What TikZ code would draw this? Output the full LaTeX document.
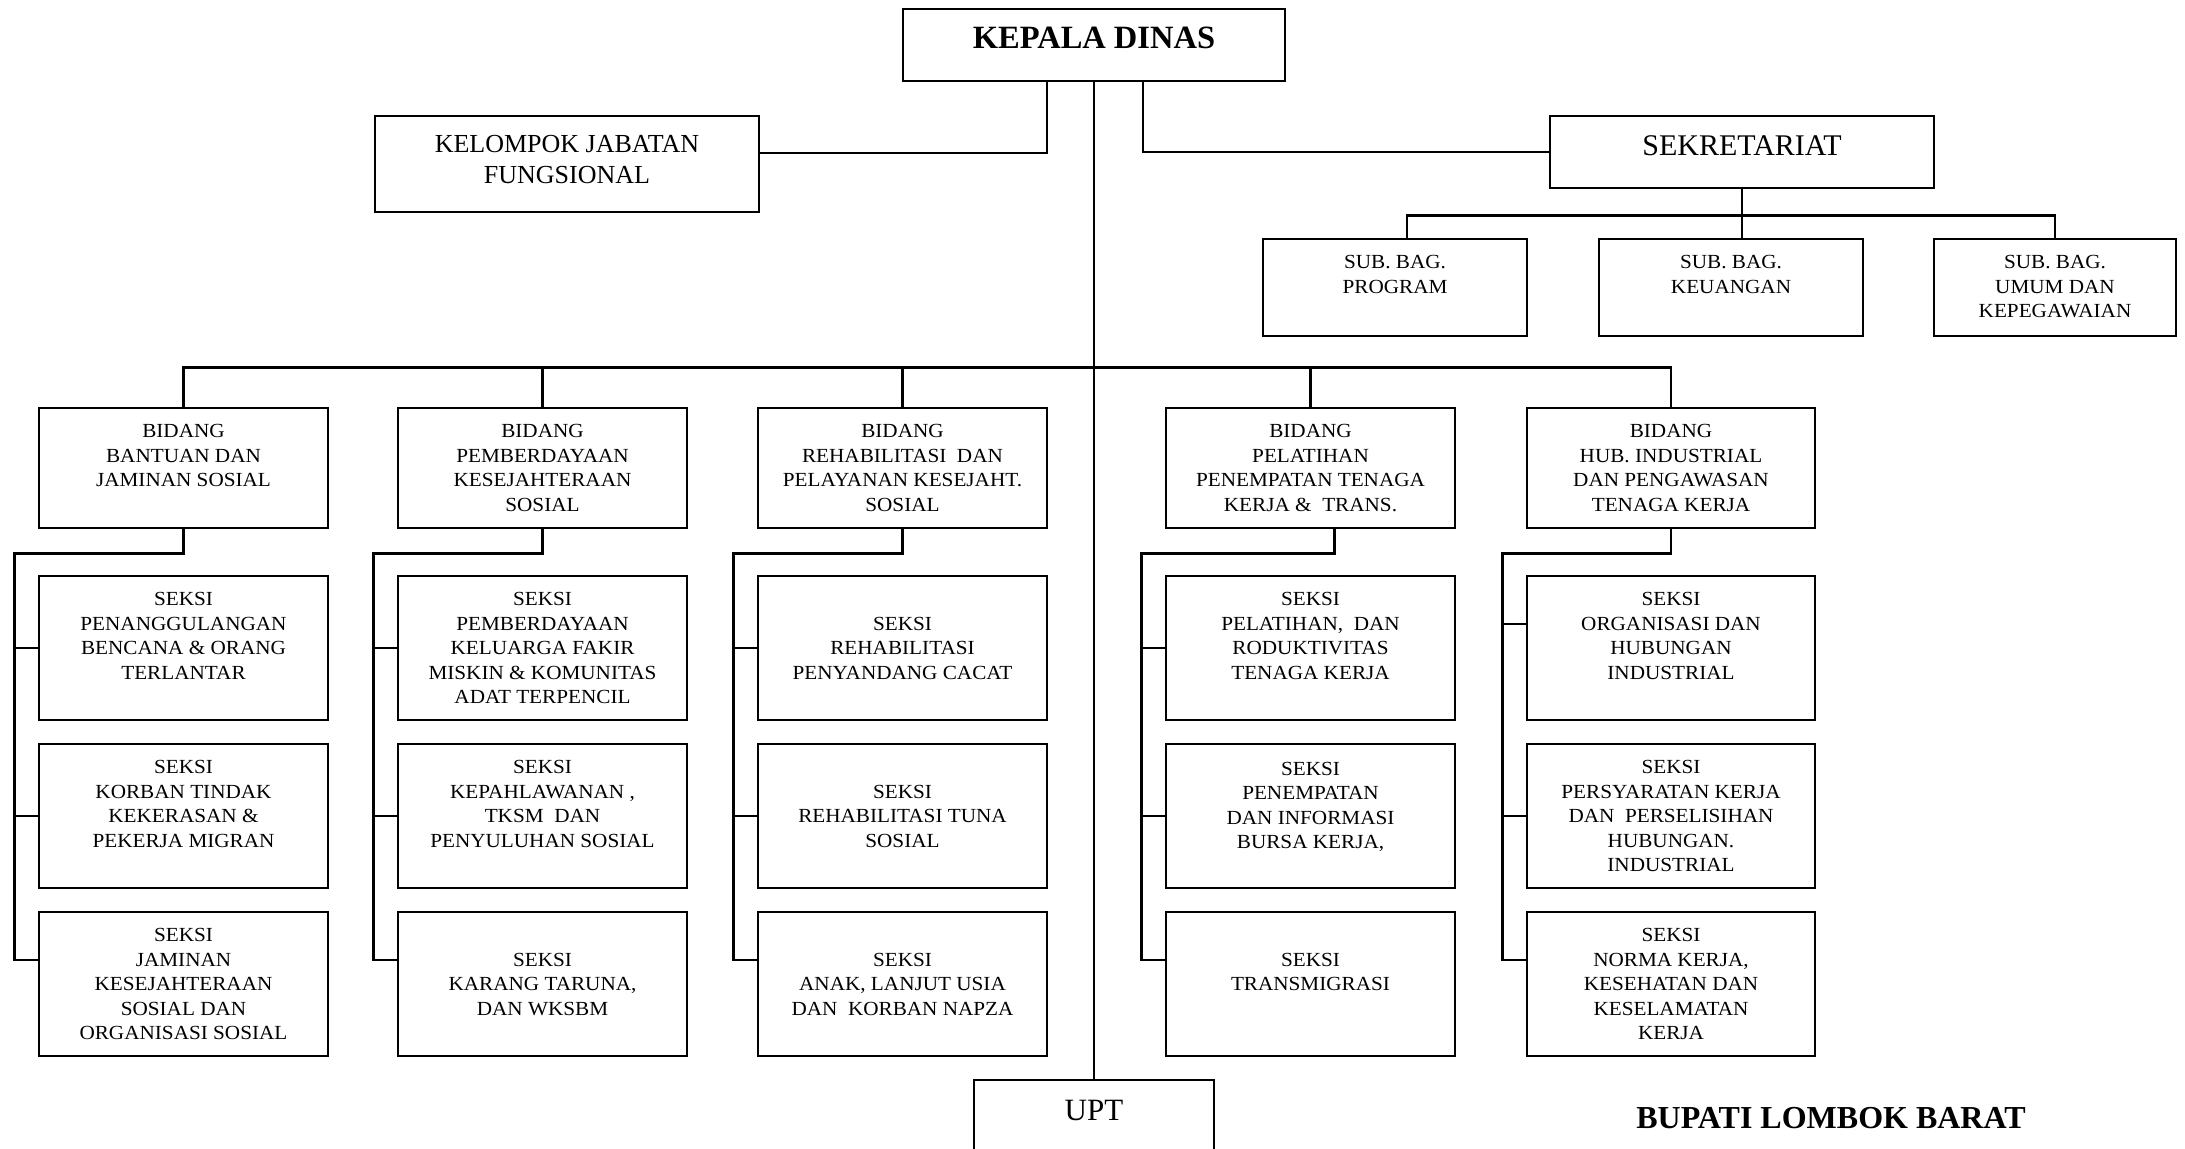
\documentclass[tikz,border=0pt]{standalone}
\usepackage{fontspec}
\setmainfont{Liberation Serif}
\newfontfamily\boxfnt{Liberation Serif}[FakeStretch=1.06]
\usetikzlibrary{fit}

\tikzset{
  box/.style={draw, line width=1.45pt, inner sep=0pt, fit={#1}},
  lbl/.style={anchor=north, align=center, inner sep=0pt, font=\boxfnt\fontsize{10}{12.25}\selectfont},
  link/.style={line width=1.15pt},
}

\begin{document}
\begin{tikzpicture}[x=0.5pt,y=0.5pt,yscale=-1,xscale=1]
    \useasboundingbox (0,0) rectangle (2185,1148);

    %Shape: Rectangle [kepala dinas]
    \node [box={(903,9) (1285,81)}] (kepala) {};
    %Shape: Rectangle [jabatan fungsional, sekretariat]
    \node [box={(375,116) (759,212)}] (kjf) {};
    \node [box={(1550,116) (1934,188)}] (sekr) {};
    %Shape: Rectangle [sub bagian]
    \node [box={(1263,239) (1527,336)}] (sb1) {};
    \node [box={(1599,239) (1863,336)}] (sb2) {};
    \node [box={(1934,239) (2176,336)}] (sb3) {};
    %Shape: Rectangle [bidang]
    \node [box={(39,408) (328,528)}] (bid1) {};
    \node [box={(398,408) (687,528)}] (bid2) {};
    \node [box={(758,408) (1047,528)}] (bid3) {};
    \node [box={(1166,408) (1455,528)}] (bid4) {};
    \node [box={(1527,408) (1815,528)}] (bid5) {};
    %Shape: Rectangle [seksi, row 1]
    \node [box={(39,576) (328,720)}] (s11) {};
    \node [box={(398,576) (687,720)}] (s21) {};
    \node [box={(758,576) (1047,720)}] (s31) {};
    \node [box={(1166,576) (1455,720)}] (s41) {};
    \node [box={(1527,576) (1815,720)}] (s51) {};
    %Shape: Rectangle [seksi, row 2]
    \node [box={(39,744) (328,888)}] (s12) {};
    \node [box={(398,744) (687,888)}] (s22) {};
    \node [box={(758,744) (1047,888)}] (s32) {};
    \node [box={(1166,744) (1455,888)}] (s42) {};
    \node [box={(1527,744) (1815,888)}] (s52) {};
    %Shape: Rectangle [seksi, row 3]
    \node [box={(39,912) (328,1056)}] (s13) {};
    \node [box={(398,912) (687,1056)}] (s23) {};
    \node [box={(758,912) (1047,1056)}] (s33) {};
    \node [box={(1166,912) (1455,1056)}] (s43) {};
    \node [box={(1527,912) (1815,1056)}] (s53) {};
    %Shape: Rectangle [upt]
    \node [box={(974,1080) (1214,1164)}] (upt) {};

    %Straight Lines [kepala]
    \coordinate (kk) at (1047,153);
    \coordinate (ks) at (1143,153);
    \draw [link] (kepala.south) -- (upt.north);
    \draw [link] (kepala.south -| kk) |- (kjf.east |- kk);
    \draw [link] (kepala.south -| ks) |- (sekr.west);
    %Straight Lines [sekretariat]
    \draw [link] (sekr.south) -- (sekr.south |- sb2.north);
    \draw [link] ([xshift=6pt]sb1.north) -- ++(0,-22) -| (sb3.north);
    %Straight Lines [bidang]
    \draw [link] (bid1.north) -- ++(0,-39) -| (bid5.north);
    \draw [link] (bid2.north) -- ++(0,-39);
    \draw [link] (bid3.north) -- ++(0,-39);
    \draw [link] (bid4.north) -- ++(0,-39);
    %Straight Lines [seksi]
    \draw [link] (bid1.south) -- ++(0,24) -| ([xshift=-11.5pt,yshift=-12pt]s13.west) -- ([yshift=-12pt]s13.west);
    \draw [link] (bid2.south) -- ++(0,24) -| ([xshift=-11.5pt,yshift=-12pt]s23.west) -- ([yshift=-12pt]s23.west);
    \draw [link] (bid3.south) -- ++(0,24) -| ([xshift=-11.5pt,yshift=-12pt]s33.west) -- ([yshift=-12pt]s33.west);
    \draw [link] ([xshift=12pt]bid4.south) -- ++(0,24) -| ([xshift=-11.5pt,yshift=-12pt]s43.west) -- ([yshift=-12pt]s43.west);
    \draw [link] (bid5.south) -- ++(0,24) -| ([xshift=-11.5pt,yshift=-12pt]s53.west) -- ([yshift=-12pt]s53.west);
    \draw [link] (s11.west) -- ++(-23,0);
    \draw [link] (s12.west) -- ++(-23,0);
    \draw [link] (s21.west) -- ++(-23,0);
    \draw [link] (s22.west) -- ++(-23,0);
    \draw [link] (s31.west) -- ++(-23,0);
    \draw [link] (s32.west) -- ++(-23,0);
    \draw [link] (s41.west) -- ++(-23,0);
    \draw [link] (s42.west) -- ++(-23,0);
    \draw [link] ([yshift=-12pt]s51.west) -- ++(-23,0);
    \draw [link] (s52.west) -- ++(-23,0);

    % Text Node
    \node [anchor=north, inner sep=0pt, font=\bfseries\fontsize{16.25}{19}\selectfont] (kepalat) at ([yshift=9.5pt]kepala.north) {KEPALA DINAS};
    % Text Node
    \node [anchor=north, align=center, inner sep=0pt, font=\fontsize{13}{15.5}\selectfont] (kjft) at ([yshift=10.25pt]kjf.north) {KELOMPOK JABATAN\\FUNGSIONAL};
    % Text Node
    \node [anchor=north, inner sep=0pt, font=\fontsize{15}{18}\selectfont] (sekrt) at ([yshift=10.5pt]sekr.north) {SEKRETARIAT};
    % Text Node
    \node [lbl] (sb1t) at ([yshift=8.75pt]sb1.north) {SUB. BAG.\\PROGRAM};
    \node [lbl] (sb2t) at ([yshift=8.75pt]sb2.north) {SUB. BAG.\\KEUANGAN};
    \node [lbl] (sb3t) at ([yshift=8.75pt]sb3.north) {SUB. BAG.\\UMUM DAN\\KEPEGAWAIAN};
    % Text Node
    \node [lbl] (bid1t) at ([yshift=8.75pt]bid1.north) {BIDANG\\BANTUAN DAN\\JAMINAN SOSIAL};
    \node [lbl] (bid2t) at ([yshift=8.75pt]bid2.north) {BIDANG\\PEMBERDAYAAN\\KESEJAHTERAAN\\SOSIAL};
    \node [lbl] (bid3t) at ([yshift=8.75pt]bid3.north) {BIDANG\\REHABILITASI\ \ DAN\\PELAYANAN KESEJAHT.\\SOSIAL};
    \node [lbl] (bid4t) at ([yshift=8.75pt]bid4.north) {BIDANG\\PELATIHAN\\PENEMPATAN TENAGA\\KERJA \&\ \ TRANS.};
    \node [lbl] (bid5t) at ([yshift=8.75pt]bid5.north) {BIDANG\\HUB. INDUSTRIAL\\DAN PENGAWASAN\\TENAGA KERJA};
    % Text Node
    \node [lbl] (s11t) at ([yshift=8.75pt]s11.north) {SEKSI\\PENANGGULANGAN\\BENCANA \& ORANG\\TERLANTAR};
    \node [lbl] (s12t) at ([yshift=8.75pt]s12.north) {SEKSI\\KORBAN TINDAK\\KEKERASAN \&\\PEKERJA MIGRAN};
    \node [lbl] (s13t) at ([yshift=8.75pt]s13.north) {SEKSI\\JAMINAN\\KESEJAHTERAAN\\SOSIAL DAN\\ORGANISASI SOSIAL};
    \node [lbl] (s21t) at ([yshift=8.75pt]s21.north) {SEKSI\\PEMBERDAYAAN\\KELUARGA FAKIR\\MISKIN \& KOMUNITAS\\ADAT TERPENCIL};
    \node [lbl] (s22t) at ([yshift=8.75pt]s22.north) {SEKSI\\KEPAHLAWANAN ,\\TKSM\ \ DAN\\PENYULUHAN SOSIAL};
    \node [lbl] (s23t) at ([yshift=21pt]s23.north) {SEKSI\\KARANG TARUNA,\\DAN WKSBM};
    \node [lbl] (s31t) at ([yshift=21pt]s31.north) {SEKSI\\REHABILITASI\\PENYANDANG CACAT};
    \node [lbl] (s32t) at ([yshift=21pt]s32.north) {SEKSI\\REHABILITASI TUNA\\SOSIAL};
    \node [lbl] (s33t) at ([yshift=21pt]s33.north) {SEKSI\\ANAK, LANJUT USIA\\DAN\ \ KORBAN NAPZA};
    \node [lbl] (s41t) at ([yshift=8.75pt]s41.north) {SEKSI\\PELATIHAN,\ \ DAN\\RODUKTIVITAS\\TENAGA KERJA};
    \node [lbl] (s42t) at ([yshift=9.5pt]s42.north) {SEKSI\\PENEMPATAN\\DAN INFORMASI\\BURSA KERJA,};
    \node [lbl] (s43t) at ([yshift=21pt]s43.north) {SEKSI\\TRANSMIGRASI};
    \node [lbl] (s51t) at ([yshift=8.75pt]s51.north) {SEKSI\\ORGANISASI DAN\\HUBUNGAN\\INDUSTRIAL};
    \node [lbl] (s52t) at ([yshift=8.75pt]s52.north) {SEKSI\\PERSYARATAN KERJA\\DAN\ \ PERSELISIHAN\\HUBUNGAN.\\INDUSTRIAL};
    \node [lbl] (s53t) at ([yshift=8.75pt]s53.north) {SEKSI\\NORMA KERJA,\\KESEHATAN DAN\\KESELAMATAN\\KERJA};
    % Text Node
    \node [anchor=north, inner sep=0pt, font=\fontsize{15.5}{18}\selectfont] (uptt) at ([yshift=10.75pt]upt.north) {UPT};
    % Text Node
    \node [inner sep=0pt, font=\bfseries\fontsize{16}{19}\selectfont] (bupati) at (1831,1118) {BUPATI LOMBOK BARAT};

\end{tikzpicture}
\end{document}
